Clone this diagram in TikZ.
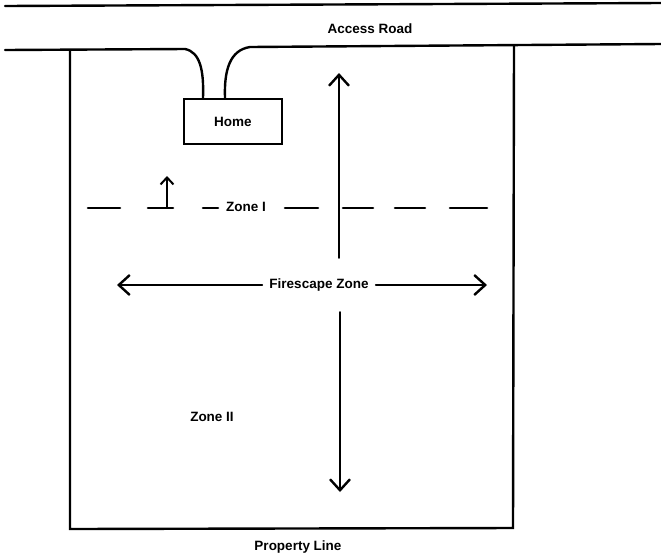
\documentclass[tikz,border=0pt]{standalone}
\usepackage{fontspec}
\setmainfont{Liberation Sans}
\usetikzlibrary{arrows.meta}
\begin{document}
\begin{tikzpicture}[x=1pt,y=-1pt,
  ln/.style={line width=2.4pt,line cap=round},
  thin ln/.style={line width=1.8pt,line cap=round},
  lbl/.style={font=\bfseries\fontsize{13.5}{15}\selectfont,inner sep=1pt},
  barb/.style={-{Straight Barb[length=11pt,width=20pt,line width=2.4pt]}},
  dsh/.style={line width=2.6pt,line cap=round}]
\useasboundingbox (0,0) rectangle (661,558);
% road
\coordinate (r1a) at (5,6);
\coordinate (r1b) at (661,3);
\draw[ln] (r1a) -- (r1b);
\node[lbl] (road) at (370,29) {Access Road};
% property
\coordinate (pl1) at (70,51);
\coordinate (pl2) at (70,529);
\coordinate (pr1) at (514,46);
\coordinate (pr2) at (513,528);
\draw[ln] (pl1) -- (pl2) -- (pr2) -- (pr1);
\node[lbl] (prop) at (298,547) {Property Line};
% home
\node[draw,line width=2.4pt,minimum width=98pt,minimum height=45pt,inner sep=0pt,lbl] (home) at (233,121.5) {Home};
\coordinate (ra) at (5,50);
\coordinate (rb) at (185,49);
\coordinate (rc) at (250,47);
\coordinate (rd) at (661,44);
\draw[ln] (ra) -- (rb) .. controls (200,52) and (204,70) .. (home.north west -| 203,0);
\draw[ln] (home.north west -| 225,0) .. controls (224,70) and (230,50) .. (rc) -- (rd);
% vertical arrows
\coordinate (vt) at (339,73);
\coordinate (vb) at (339,258);
\draw[thin ln,barb] (vb) -- (vt);
\coordinate (wt) at (340,312);
\coordinate (wb) at (340,492);
\draw[thin ln,barb] (wt) -- (wb);
% zone I dashed line
\node[lbl] (z1) at (246,207) {Zone I};
\foreach \a/\b [count=\i] in {88/120,148/173,203/218,285/318,343/373,395/425,450/487}
  { \coordinate (d\i a) at (\a,208); \coordinate (d\i b) at (\b,208);
    \draw[dsh] (d\i a) -- (d\i b); }
\coordinate (ua) at (167,208);
\coordinate (ub) at (167,176);
\draw[thin ln,-{Straight Barb[length=7pt,width=13pt,line width=2pt]}] (ua) -- (ub);
% firescape
\node[lbl] (fz) at (319,285) {Firescape Zone};
\coordinate (hl) at (117,285);
\coordinate (hr) at (487,285);
\draw[thin ln,barb] (fz.west) ++(-6,0) -- (hl);
\draw[thin ln,barb] (fz.east) ++(6,0) -- (hr);
% zone II
\node[lbl] (z2) at (212,417) {Zone II};
\end{tikzpicture}
\end{document}
